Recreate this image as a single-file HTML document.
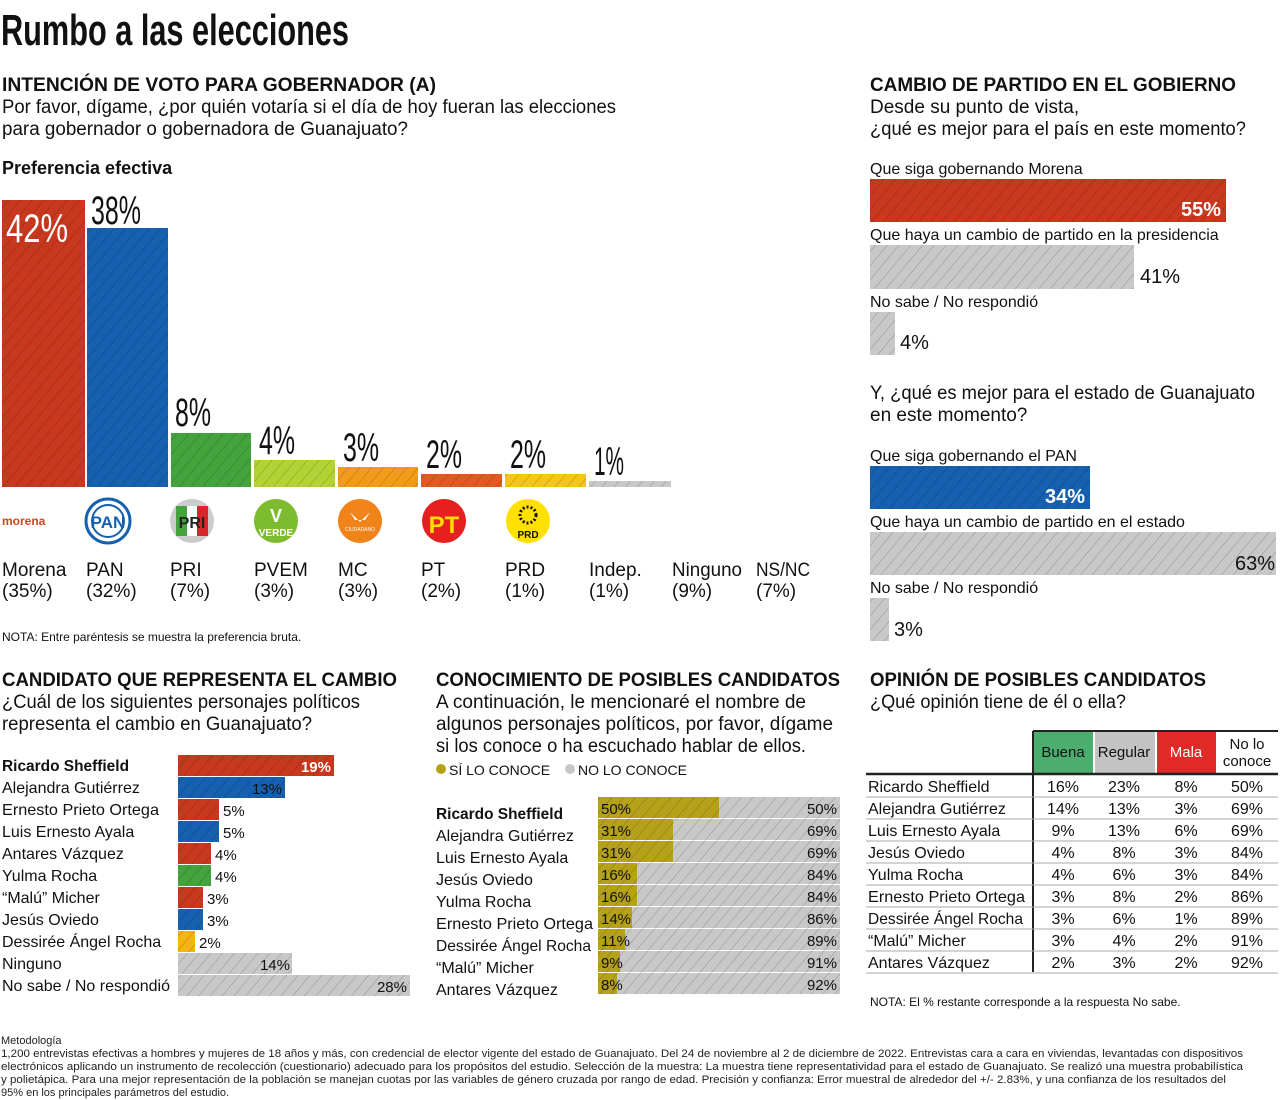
<!DOCTYPE html>
<html><head><meta charset="utf-8"><style>
html,body{margin:0;padding:0;background:#fff;}
svg{display:block;font-family:"Liberation Sans",sans-serif;}
.b{font-weight:bold}
</style></head><body>
<svg width="1280" height="1100" viewBox="0 0 1280 1100" xmlns="http://www.w3.org/2000/svg">
<defs>
<pattern id="h" width="9" height="9" patternUnits="userSpaceOnUse" patternTransform="rotate(40)"><line x1="0" y1="0" x2="0" y2="9" stroke="#000" stroke-opacity="0.22" stroke-width="1.2"/></pattern>
</defs>
<rect width="1280" height="1100" fill="#fff"/>
<text x="1" y="45" font-size="44" class="b" textLength="348" lengthAdjust="spacingAndGlyphs" fill="#111">Rumbo a las elecciones</text>

<!-- Section 1 -->
<g fill="#111">
<text x="2" y="91" font-size="19" class="b" textLength="434" lengthAdjust="spacingAndGlyphs">INTENCIÓN DE VOTO PARA GOBERNADOR (A)</text>
<text x="2" y="113" font-size="19" textLength="614" lengthAdjust="spacingAndGlyphs">Por favor, dígame, ¿por quién votaría si el día de hoy fueran las elecciones</text>
<text x="2" y="135" font-size="19" textLength="406" lengthAdjust="spacingAndGlyphs">para gobernador o gobernadora de Guanajuato?</text>
<text x="2" y="174" font-size="18" class="b">Preferencia efectiva</text>
</g>
<g>
<rect x="2" y="200" width="83" height="287" fill="#c8381e"/>
<rect x="87" y="228" width="81" height="259" fill="#1660b0"/>
<rect x="171" y="433" width="80" height="54" fill="#43a33c"/>
<rect x="254" y="460" width="81" height="27" fill="#b3d236"/>
<rect x="338" y="467" width="80" height="20" fill="#f29b18"/>
<rect x="421" y="474" width="81" height="13" fill="#e4591e"/>
<rect x="505" y="474" width="81" height="13" fill="#f5c518"/>
<rect x="589" y="481" width="82" height="6" fill="#c8c8c8"/>
<rect x="2" y="200" width="669" height="287" fill="url(#h)"/>
<rect x="85" y="190" width="2" height="300" fill="#fff"/>
<rect x="168" y="190" width="3" height="300" fill="#fff"/>
<rect x="251" y="190" width="3" height="300" fill="#fff"/>
<rect x="335" y="190" width="3" height="300" fill="#fff"/>
<rect x="418" y="190" width="3" height="300" fill="#fff"/>
<rect x="502" y="190" width="3" height="300" fill="#fff"/>
<rect x="586" y="190" width="3" height="300" fill="#fff"/>
<rect x="87" y="200" width="84" height="28" fill="#fff"/>
<rect x="171" y="200" width="500" height="233" fill="#fff"/>
<rect x="254" y="433" width="417" height="27" fill="#fff"/>
<rect x="338" y="460" width="333" height="7" fill="#fff"/>
<rect x="421" y="467" width="250" height="7" fill="#fff"/>
<rect x="589" y="474" width="82" height="7" fill="#fff"/>
</g>
<g font-size="40" fill="#111">
<text x="6" y="242" fill="#fff" textLength="62" lengthAdjust="spacingAndGlyphs">42%</text>
<text x="91" y="224" textLength="50" lengthAdjust="spacingAndGlyphs">38%</text>
<text x="175" y="426" textLength="36" lengthAdjust="spacingAndGlyphs">8%</text>
<text x="259" y="454" textLength="36" lengthAdjust="spacingAndGlyphs">4%</text>
<text x="343" y="461" textLength="36" lengthAdjust="spacingAndGlyphs">3%</text>
<text x="426" y="468" textLength="36" lengthAdjust="spacingAndGlyphs">2%</text>
<text x="510" y="468" textLength="36" lengthAdjust="spacingAndGlyphs">2%</text>
<text x="594" y="475" textLength="30" lengthAdjust="spacingAndGlyphs">1%</text>
</g>
<!-- logos -->
<text x="2" y="525" font-size="12" class="b" fill="#c9471e">morena</text>
<circle cx="108" cy="521" r="22" fill="#fff" stroke="#1660b0" stroke-width="3"/><circle cx="108" cy="521" r="16" fill="none" stroke="#1660b0" stroke-width="2"/><text x="108" y="528" font-size="17" class="b" fill="#1660b0" text-anchor="middle">PAN</text>
<circle cx="192" cy="521" r="22" fill="#ccc"/><rect x="176" y="506" width="11" height="30" fill="#43a33c"/><rect x="187" y="506" width="10" height="30" fill="#fff"/><rect x="197" y="506" width="11" height="30" fill="#d8262a"/><text x="192" y="528" font-size="16" class="b" fill="#222" text-anchor="middle">PRI</text>
<circle cx="276" cy="521" r="22" fill="#7ebc2f"/><text x="276" y="536" font-size="10" class="b" fill="#fff" text-anchor="middle">VERDE</text><text x="276" y="522" font-size="18" class="b" fill="#fff" text-anchor="middle">V</text>
<circle cx="360" cy="521" r="22" fill="#f08319"/><text x="360" y="531" font-size="5" fill="#fff" text-anchor="middle">CIUDADANO</text><path d="M350 512 L360 522 L370 512 L365 520 L355 520Z" fill="#fff"/>
<circle cx="444" cy="521" r="22" fill="#e5201e"/><text x="444" y="533" font-size="24" class="b" fill="#ffdd00" text-anchor="middle">PT</text>
<circle cx="528" cy="521" r="22" fill="#ffe100"/><circle cx="528" cy="515" r="8" fill="none" stroke="#111" stroke-width="3" stroke-dasharray="2 2"/><text x="528" y="538" font-size="10" class="b" fill="#111" text-anchor="middle">PRD</text>
<g font-size="19" fill="#111">
<text x="2" y="576">Morena</text><text x="2" y="597">(35%)</text>
<text x="86" y="576">PAN</text><text x="86" y="597">(32%)</text>
<text x="170" y="576">PRI</text><text x="170" y="597">(7%)</text>
<text x="254" y="576">PVEM</text><text x="254" y="597">(3%)</text>
<text x="338" y="576">MC</text><text x="338" y="597">(3%)</text>
<text x="421" y="576">PT</text><text x="421" y="597">(2%)</text>
<text x="505" y="576">PRD</text><text x="505" y="597">(1%)</text>
<text x="589" y="576">Indep.</text><text x="589" y="597">(1%)</text>
<text x="672" y="576" textLength="70" lengthAdjust="spacingAndGlyphs">Ninguno</text><text x="672" y="597">(9%)</text>
<text x="756" y="576" textLength="54" lengthAdjust="spacingAndGlyphs">NS/NC</text><text x="756" y="597">(7%)</text>
</g>
<text x="2" y="641" font-size="12" fill="#111">NOTA: Entre paréntesis se muestra la preferencia bruta.</text>

<!-- Right top -->
<g fill="#111">
<text x="870" y="91" font-size="19" class="b" textLength="366" lengthAdjust="spacingAndGlyphs">CAMBIO DE PARTIDO EN EL GOBIERNO</text>
<text x="870" y="113" font-size="19">Desde su punto de vista,</text>
<text x="870" y="135" font-size="19" textLength="376" lengthAdjust="spacingAndGlyphs">¿qué es mejor para el país en este momento?</text>
<text x="870" y="174" font-size="16">Que siga gobernando Morena</text>
<text x="870" y="240" font-size="16">Que haya un cambio de partido en la presidencia</text>
<text x="870" y="307" font-size="16">No sabe / No respondió</text>
<text x="870" y="399" font-size="19" textLength="385" lengthAdjust="spacingAndGlyphs">Y, ¿qué es mejor para el estado de Guanajuato</text>
<text x="870" y="421" font-size="19">en este momento?</text>
<text x="870" y="461" font-size="16">Que siga gobernando el PAN</text>
<text x="870" y="527" font-size="16">Que haya un cambio de partido en el estado</text>
<text x="870" y="593" font-size="16">No sabe / No respondió</text>
</g>
<rect x="870" y="179" width="356" height="43" fill="#c8381e"/>
<rect x="870" y="245" width="264" height="44" fill="#c8c8c8"/>
<rect x="870" y="312" width="25" height="43" fill="#c8c8c8"/>
<rect x="870" y="466" width="220" height="43" fill="#1660b0"/>
<rect x="870" y="532" width="406" height="43" fill="#c8c8c8"/>
<rect x="870" y="598" width="19" height="43" fill="#c8c8c8"/>
<g fill="url(#h)">
<rect x="870" y="179" width="356" height="43"/><rect x="870" y="245" width="264" height="44"/><rect x="870" y="312" width="25" height="43"/>
<rect x="870" y="466" width="220" height="43"/><rect x="870" y="532" width="406" height="43"/><rect x="870" y="598" width="19" height="43"/>
</g>
<g font-size="20">
<text x="1221" y="216" class="b" fill="#fff" text-anchor="end">55%</text>
<text x="1140" y="283" fill="#111">41%</text>
<text x="900" y="349" fill="#111">4%</text>
<text x="1085" y="503" class="b" fill="#fff" text-anchor="end">34%</text>
<text x="1275" y="570" fill="#111" text-anchor="end">63%</text>
<text x="894" y="636" fill="#111">3%</text>
</g>

<!-- Bottom left -->
<g fill="#111">
<text x="2" y="686" font-size="19" class="b" textLength="395" lengthAdjust="spacingAndGlyphs">CANDIDATO QUE REPRESENTA EL CAMBIO</text>
<text x="2" y="708" font-size="19" textLength="358" lengthAdjust="spacingAndGlyphs">¿Cuál de los siguientes personajes políticos</text>
<text x="2" y="730" font-size="19" textLength="310" lengthAdjust="spacingAndGlyphs">representa el cambio en Guanajuato?</text>
<g font-size="16">
<text x="2" y="771" class="b" textLength="127" lengthAdjust="spacingAndGlyphs">Ricardo Sheffield</text>
<text x="2" y="793">Alejandra Gutiérrez</text>
<text x="2" y="815" textLength="157" lengthAdjust="spacingAndGlyphs">Ernesto Prieto Ortega</text>
<text x="2" y="837">Luis Ernesto Ayala</text>
<text x="2" y="859">Antares Vázquez</text>
<text x="2" y="881">Yulma Rocha</text>
<text x="2" y="903">“Malú” Micher</text>
<text x="2" y="925">Jesús Oviedo</text>
<text x="2" y="947">Dessirée Ángel Rocha</text>
<text x="2" y="969">Ninguno</text>
<text x="2" y="991" textLength="168" lengthAdjust="spacingAndGlyphs">No sabe / No respondió</text>
</g>
</g>
<g>
<rect x="178" y="755" width="156" height="21" fill="#c8381e"/>
<rect x="178" y="777" width="107" height="21" fill="#1660b0"/>
<rect x="178" y="799" width="41" height="21" fill="#c8381e"/>
<rect x="178" y="821" width="41" height="21" fill="#1660b0"/>
<rect x="178" y="843" width="33" height="21" fill="#c8381e"/>
<rect x="178" y="865" width="33" height="21" fill="#43a33c"/>
<rect x="178" y="887" width="25" height="21" fill="#c8381e"/>
<rect x="178" y="909" width="25" height="21" fill="#1660b0"/>
<rect x="178" y="931" width="17" height="21" fill="#f5b318"/>
<rect x="178" y="953" width="114" height="21" fill="#c8c8c8"/>
<rect x="178" y="975" width="232" height="21" fill="#c8c8c8"/>
<g fill="url(#h)">
<rect x="178" y="755" width="156" height="21"/><rect x="178" y="777" width="107" height="21"/><rect x="178" y="799" width="41" height="21"/><rect x="178" y="821" width="41" height="21"/><rect x="178" y="843" width="33" height="21"/><rect x="178" y="865" width="33" height="21"/><rect x="178" y="887" width="25" height="21"/><rect x="178" y="909" width="25" height="21"/><rect x="178" y="931" width="17" height="21"/><rect x="178" y="953" width="114" height="21"/><rect x="178" y="975" width="232" height="21"/>
</g>
</g>
<g font-size="15" fill="#111">
<text x="331" y="772" class="b" fill="#fff" text-anchor="end">19%</text>
<text x="282" y="794" text-anchor="end">13%</text>
<text x="223" y="816">5%</text>
<text x="223" y="838">5%</text>
<text x="215" y="860">4%</text>
<text x="215" y="882">4%</text>
<text x="207" y="904">3%</text>
<text x="207" y="926">3%</text>
<text x="199" y="948">2%</text>
<text x="290" y="970" text-anchor="end">14%</text>
<text x="407" y="992" text-anchor="end">28%</text>
</g>

<!-- Bottom middle -->
<g fill="#111">
<text x="436" y="686" font-size="19" class="b" textLength="404" lengthAdjust="spacingAndGlyphs">CONOCIMIENTO DE POSIBLES CANDIDATOS</text>
<text x="436" y="708" font-size="19" textLength="370" lengthAdjust="spacingAndGlyphs">A continuación, le mencionaré el nombre de</text>
<text x="436" y="730" font-size="19" textLength="397" lengthAdjust="spacingAndGlyphs">algunos personajes políticos, por favor, dígame</text>
<text x="436" y="752" font-size="19" textLength="370" lengthAdjust="spacingAndGlyphs">si los conoce o ha escuchado hablar de ellos.</text>
<circle cx="441" cy="769" r="5" fill="#b5a21a"/>
<text x="449" y="775" font-size="14">SÍ LO CONOCE</text>
<circle cx="570" cy="769" r="5" fill="#c8c8c8"/>
<text x="578" y="775" font-size="14">NO LO CONOCE</text>
<g font-size="16">
<text x="436" y="819" class="b" textLength="127" lengthAdjust="spacingAndGlyphs">Ricardo Sheffield</text>
<text x="436" y="841">Alejandra Gutiérrez</text>
<text x="436" y="863">Luis Ernesto Ayala</text>
<text x="436" y="885">Jesús Oviedo</text>
<text x="436" y="907">Yulma Rocha</text>
<text x="436" y="929" textLength="157" lengthAdjust="spacingAndGlyphs">Ernesto Prieto Ortega</text>
<text x="436" y="951" textLength="155" lengthAdjust="spacingAndGlyphs">Dessirée Ángel Rocha</text>
<text x="436" y="973">“Malú” Micher</text>
<text x="436" y="995">Antares Vázquez</text>
</g>
</g>
<g>
<rect x="598" y="797" width="242" height="21" fill="#c8c8c8"/><rect x="598" y="797" width="121" height="21" fill="#b5a21a"/>
<rect x="598" y="819" width="242" height="21" fill="#c8c8c8"/><rect x="598" y="819" width="75" height="21" fill="#b5a21a"/>
<rect x="598" y="841" width="242" height="21" fill="#c8c8c8"/><rect x="598" y="841" width="75" height="21" fill="#b5a21a"/>
<rect x="598" y="863" width="242" height="21" fill="#c8c8c8"/><rect x="598" y="863" width="39" height="21" fill="#b5a21a"/>
<rect x="598" y="885" width="242" height="21" fill="#c8c8c8"/><rect x="598" y="885" width="39" height="21" fill="#b5a21a"/>
<rect x="598" y="907" width="242" height="21" fill="#c8c8c8"/><rect x="598" y="907" width="34" height="21" fill="#b5a21a"/>
<rect x="598" y="929" width="242" height="21" fill="#c8c8c8"/><rect x="598" y="929" width="27" height="21" fill="#b5a21a"/>
<rect x="598" y="951" width="242" height="21" fill="#c8c8c8"/><rect x="598" y="951" width="22" height="21" fill="#b5a21a"/>
<rect x="598" y="973" width="242" height="21" fill="#c8c8c8"/><rect x="598" y="973" width="19" height="21" fill="#b5a21a"/>
<rect x="598" y="797" width="242" height="197" fill="url(#h)"/>
</g>
<g font-size="15" fill="#111">
<text x="601" y="814">50%</text><text x="837" y="814" text-anchor="end">50%</text>
<text x="601" y="836">31%</text><text x="837" y="836" text-anchor="end">69%</text>
<text x="601" y="858">31%</text><text x="837" y="858" text-anchor="end">69%</text>
<text x="601" y="880">16%</text><text x="837" y="880" text-anchor="end">84%</text>
<text x="601" y="902">16%</text><text x="837" y="902" text-anchor="end">84%</text>
<text x="601" y="924">14%</text><text x="837" y="924" text-anchor="end">86%</text>
<text x="601" y="946">11%</text><text x="837" y="946" text-anchor="end">89%</text>
<text x="601" y="968">9%</text><text x="837" y="968" text-anchor="end">91%</text>
<text x="601" y="990">8%</text><text x="837" y="990" text-anchor="end">92%</text>
</g>

<!-- Bottom right table -->
<g fill="#111">
<text x="870" y="686" font-size="19" class="b" textLength="336" lengthAdjust="spacingAndGlyphs">OPINIÓN DE POSIBLES CANDIDATOS</text>
<text x="870" y="708" font-size="19" textLength="256" lengthAdjust="spacingAndGlyphs">¿Qué opinión tiene de él o ella?</text>
</g>
<rect x="1033" y="731" width="60" height="42" fill="#4cae6e"/>
<rect x="1095" y="731" width="60" height="42" fill="#c3c3c3"/>
<rect x="1157" y="731" width="59" height="42" fill="#e02a27"/>
<line x1="1033" y1="731" x2="1278" y2="731" stroke="#222" stroke-width="2"/>
<line x1="866" y1="774" x2="1278" y2="774" stroke="#222" stroke-width="2.5"/>
<line x1="1033" y1="731" x2="1033" y2="972" stroke="#222" stroke-width="2"/>
<g stroke="#aaa" stroke-width="1">
<line x1="866" y1="797" x2="1278" y2="797"/><line x1="866" y1="819" x2="1278" y2="819"/><line x1="866" y1="841" x2="1278" y2="841"/><line x1="866" y1="863" x2="1278" y2="863"/><line x1="866" y1="885" x2="1278" y2="885"/><line x1="866" y1="907" x2="1278" y2="907"/><line x1="866" y1="929" x2="1278" y2="929"/><line x1="866" y1="951" x2="1278" y2="951"/><line x1="866" y1="973" x2="1278" y2="973"/>
</g>
<g font-size="15" fill="#111" text-anchor="middle">
<text x="1063" y="757">Buena</text><text x="1124" y="757">Regular</text><text x="1186" y="757" fill="#fff">Mala</text>
<text x="1247" y="749">No lo</text><text x="1247" y="766">conoce</text>
</g>
<g font-size="16" fill="#111">
<text x="868" y="792">Ricardo Sheffield</text>
<text x="868" y="814">Alejandra Gutiérrez</text>
<text x="868" y="836">Luis Ernesto Ayala</text>
<text x="868" y="858">Jesús Oviedo</text>
<text x="868" y="880">Yulma Rocha</text>
<text x="868" y="902" textLength="157" lengthAdjust="spacingAndGlyphs">Ernesto Prieto Ortega</text>
<text x="868" y="924" textLength="155" lengthAdjust="spacingAndGlyphs">Dessirée Ángel Rocha</text>
<text x="868" y="946">“Malú” Micher</text>
<text x="868" y="968">Antares Vázquez</text>
</g>
<g font-size="16" fill="#111" text-anchor="middle">
<text x="1063" y="792">16%</text><text x="1124" y="792">23%</text><text x="1186" y="792">8%</text><text x="1247" y="792">50%</text>
<text x="1063" y="814">14%</text><text x="1124" y="814">13%</text><text x="1186" y="814">3%</text><text x="1247" y="814">69%</text>
<text x="1063" y="836">9%</text><text x="1124" y="836">13%</text><text x="1186" y="836">6%</text><text x="1247" y="836">69%</text>
<text x="1063" y="858">4%</text><text x="1124" y="858">8%</text><text x="1186" y="858">3%</text><text x="1247" y="858">84%</text>
<text x="1063" y="880">4%</text><text x="1124" y="880">6%</text><text x="1186" y="880">3%</text><text x="1247" y="880">84%</text>
<text x="1063" y="902">3%</text><text x="1124" y="902">8%</text><text x="1186" y="902">2%</text><text x="1247" y="902">86%</text>
<text x="1063" y="924">3%</text><text x="1124" y="924">6%</text><text x="1186" y="924">1%</text><text x="1247" y="924">89%</text>
<text x="1063" y="946">3%</text><text x="1124" y="946">4%</text><text x="1186" y="946">2%</text><text x="1247" y="946">91%</text>
<text x="1063" y="968">2%</text><text x="1124" y="968">3%</text><text x="1186" y="968">2%</text><text x="1247" y="968">92%</text>
</g>
<text x="870" y="1006" font-size="12" fill="#111">NOTA: El % restante corresponde a la respuesta No sabe.</text>

<!-- Methodology -->
<g font-size="11" fill="#222">
<text x="1" y="1044">Metodología</text>
<text x="1" y="1057" textLength="1242" lengthAdjust="spacingAndGlyphs">1,200 entrevistas efectivas a hombres y mujeres de 18 años y más, con credencial de elector vigente del estado de Guanajuato. Del 24 de noviembre al 2 de diciembre de 2022. Entrevistas cara a cara en viviendas, levantadas con dispositivos</text>
<text x="1" y="1070" textLength="1242" lengthAdjust="spacingAndGlyphs">electrónicos aplicando un instrumento de recolección (cuestionario) adecuado para los propósitos del estudio. Selección de la muestra: La muestra tiene representatividad para el estado de Guanajuato. Se realizó una muestra probabilística</text>
<text x="1" y="1083" textLength="1225" lengthAdjust="spacingAndGlyphs">y polietápica. Para una mejor representación de la población se manejan cuotas por las variables de género cruzada por rango de edad. Precisión y confianza: Error muestral de alrededor del +/- 2.83%, y una confianza de los resultados del</text>
<text x="1" y="1096">95% en los principales parámetros del estudio.</text>
</g>
</svg>
</body></html>
